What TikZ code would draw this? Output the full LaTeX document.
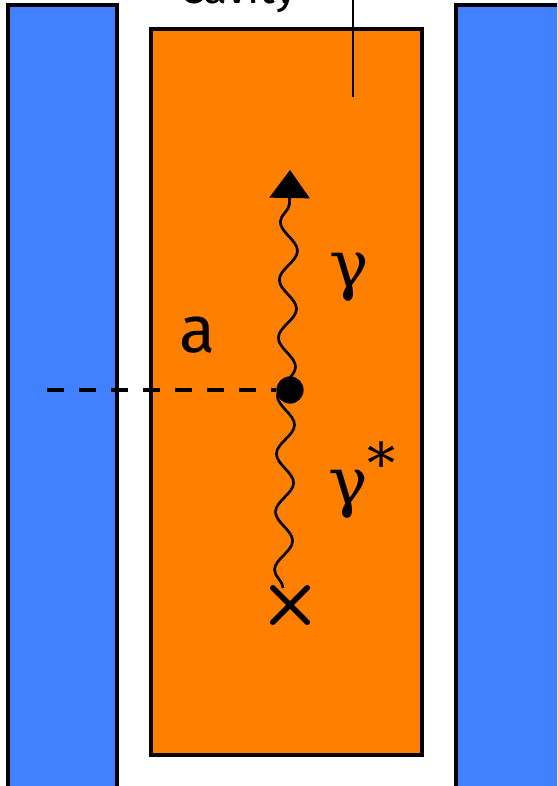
\documentclass[tikz,border=0pt]{standalone}
\usepackage{fontspec}
\setmainfont{Fira Sans}
\newfontfamily\grk{DejaVu Serif}
\usepackage{xcolor}
\usetikzlibrary{arrows.meta,shapes.misc,decorations.pathmorphing}
\definecolor{plateblue}{RGB}{65,128,255}
\definecolor{cavorange}{RGB}{255,127,0}
\begin{document}
\begin{tikzpicture}[x=0.025cm,y=-0.025cm,
  plate/.style={fill=plateblue,draw=black,line width=2.6pt},
  cavbox/.style={fill=cavorange,draw=black,line width=2.2pt},
  lbl/.style={font=\fontsize{47}{47}\selectfont},
  photon/.style={line width=1.9pt,decorate,decoration={snake,amplitude=0.22cm,segment length=1.45cm,post length=0.2cm}}]
\useasboundingbox (0,0) rectangle (557,786);
\clip (0,0) rectangle (557,786);
\draw[plate](8,5)rectangle(117,800);
\draw[plate](456,5)rectangle(580,800);
\draw[cavbox](151,29)rectangle(422,755);
\draw(238,4)node[anchor=base,font=\fontsize{31}{31}\selectfont](cavlbl){Cavity};
\coordinate(ptr) at (353,97);
\draw[line width=1.5pt](353,-5)--(ptr);
\node[circle,fill=black,inner sep=0pt,minimum size=0.68cm](vtx) at (290,390){};
\node[cross out,draw=black,line width=4pt,line cap=round,inner sep=0pt,minimum size=0.72cm](src) at (290,605){};
\coordinate(tip) at (290,170);
\coordinate(wall) at (47,390);
\draw[photon,-{Triangle[length=0.7cm,width=1cm]}](283,588)--(tip);
\draw[line width=2.6pt,dash pattern=on 0.42cm off 0.38cm](wall)--(vtx);
\draw(197,335)node[lbl](alab){a}
(349,277)node[lbl](glab){\grk γ}
(362,480)node[lbl](gslab){\grk γ\raisebox{0.32em}{\fontsize{40}{40}\selectfont *}};
\end{tikzpicture}
\end{document}
